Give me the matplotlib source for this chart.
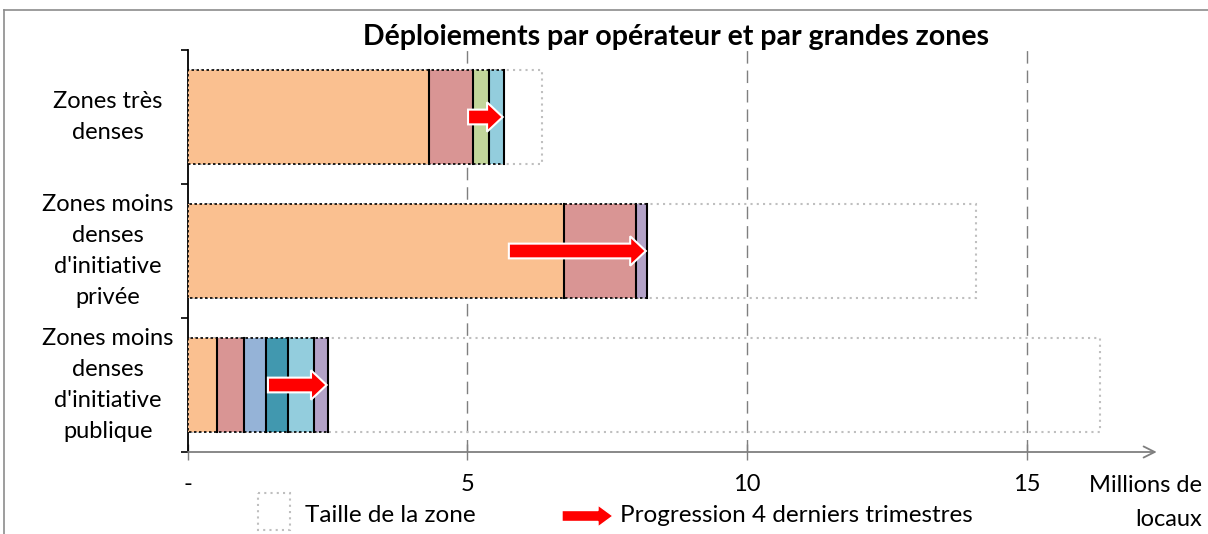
import numpy as np
import matplotlib.pyplot as plt
from matplotlib.patches import Rectangle, FancyArrow

plt.rcParams['font.family'] = ['Lato', 'DejaVu Sans']

# Data (millions de locaux)
zones = ["Zones très\ndenses",
         "Zones moins\ndenses\nd'initiative\nprivée",
         "Zones moins\ndenses\nd'initiative\npublique"]
zone_size = [6.33, 14.10, 16.31]
prev_total = [5.01, 5.74, 1.43]   # niveau il y a 4 trimestres
segments = [
    [4.31, 0.79, 0.28, 0.28],
    [6.73, 1.28, 0.21],
    [0.51, 0.50, 0.39, 0.38, 0.47, 0.26],
]
seg_colors = [
    ['#FAC090', '#D99594', '#C3D69B', '#93CDDD'],
    ['#FAC090', '#D99594', '#B3A2C7'],
    ['#FAC090', '#D99594', '#95B3D7', '#4198AF', '#93CDDD', '#B3A2C7'],
]
xticks = [0, 5, 10, 15]
xticklabels = ['-', '5', '10', '15']

W, H = 1208, 534
fig = plt.figure(figsize=(W / 100, H / 100), dpi=100)
ax = fig.add_axes([188 / W, 1 - 452 / H, 962 / W, 402 / H])
xmax = 962 / 55.9
ax.set_xlim(0, xmax)
ax.set_ylim(2.5, -0.5)

bar_h = 0.70
for i in range(len(zones)):
    # taille de la zone
    ax.add_patch(Rectangle((0, i - bar_h / 2), zone_size[i], bar_h, fill=False,
                           edgecolor='#BFBFBF', linestyle=(0, (1, 2)), lw=1.5, zorder=2))
    left = 0
    for v, c in zip(segments[i], seg_colors[i]):
        ax.barh(i, v, left=left, height=bar_h, color=c, edgecolor='none', zorder=3)
        left += v
        ax.plot([left, left], [i - bar_h / 2, i + bar_h / 2], color='black', lw=1.5, zorder=4)
    total = left
    ax.plot([total, 0, 0, total], [i - bar_h / 2, i - bar_h / 2, i + bar_h / 2, i + bar_h / 2],
            color='black', lw=1.2, linestyle=(0, (1.5, 1.5)), zorder=4)
    # progression
    ax.add_patch(FancyArrow(prev_total[i], i, total - prev_total[i] - 0.03, 0, width=0.11,
                            head_width=0.22, head_length=0.28, length_includes_head=True,
                            facecolor='#FF0000', edgecolor='white', lw=1.5, zorder=5))
    ax.text(-1.43, i, zones[i], ha='center', va='center', fontsize=17,
            linespacing=1.6)

# grille
for x in xticks[1:]:
    ax.axvline(x, color='#7F7F7F', lw=1, linestyle=(0, (9, 5)), zorder=1)

ax.spines['top'].set_visible(False)
ax.spines['right'].set_visible(False)
ax.spines['bottom'].set_visible(False)
ax.spines['left'].set_color('black')
ax.spines['left'].set_linewidth(1.3)
ax.set_yticks([-0.5, 0.5, 1.5, 2.5])
ax.set_yticklabels([])
ax.tick_params(axis='y', direction='out', length=5, width=1.2, color='black')
ax.set_xticks(xticks)
ax.set_xticklabels(xticklabels, fontsize=17)
ax.tick_params(axis='x', direction='inout', length=12, width=1, color='#7F7F7F', pad=10)
ax.annotate('', xy=(xmax + 0.12, 2.5), xytext=(0, 2.5), xycoords='data',
            arrowprops=dict(arrowstyle='->', color='#7F7F7F', lw=1.3,
                            mutation_scale=20, shrinkA=0, shrinkB=0),
            annotation_clip=False)

# overlay in pixel coordinates
ov = fig.add_axes([0, 0, 1, 1], zorder=-1)
ov.set_xlim(0, W)
ov.set_ylim(H, 0)
ov.axis('off')
ov.plot([4, W], [10, 10], color='#8C8C8C', lw=1.2)
ov.plot([4, 4], [10, H], color='#8C8C8C', lw=1.2)

top = fig.add_axes([0, 0, 1, 1], zorder=5)
top.set_xlim(0, W)
top.set_ylim(H, 0)
top.axis('off')
top.patch.set_alpha(0)
top.text(676, 37, 'Déploiements par opérateur et par grandes zones', ha='center',
         va='center', fontsize=20.5, fontweight='bold')
top.text(1202, 486, 'Millions de', ha='right', va='center', fontsize=17)
top.text(1202, 519, 'locaux', ha='right', va='center', fontsize=17)
top.add_patch(Rectangle((258, 493), 32, 37, fill=False, edgecolor='#BFBFBF',
                        linestyle=(0, (1, 2)), lw=1.5))
top.text(305, 516, 'Taille de la zone', ha='left', va='center', fontsize=17.5)
top.add_patch(FancyArrow(562, 516, 51, 0, width=11, head_width=22, head_length=15,
                         length_includes_head=True, facecolor='#FF0000',
                         edgecolor='white', lw=1))
top.text(620, 516, 'Progression 4 derniers trimestres', ha='left', va='center', fontsize=17.5)

fig.savefig('out.png', dpi=100)
